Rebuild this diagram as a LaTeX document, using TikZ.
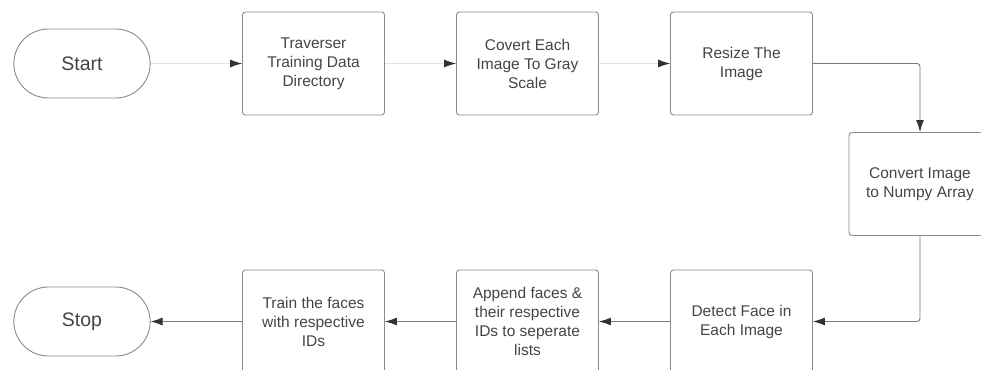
\documentclass[tikz,border=0pt]{standalone}
\usepackage{fontspec}
\setmainfont{Liberation Sans}
\usetikzlibrary{arrows.meta,shapes.misc}
\definecolor{edgegray}{HTML}{8A8A8A}
\definecolor{textgray}{HTML}{444444}
\definecolor{faintgray}{HTML}{E2E2E2}
\definecolor{linkgray}{HTML}{7A7A7A}
\definecolor{tipgray}{HTML}{333333}
\begin{document}
\begin{tikzpicture}[x=1pt, y=-1pt,
        every node/.style={draw=edgegray, line width=0.9pt, text=textgray, align=center},
        box/.style={rectangle, rounded corners=3pt, minimum width=142pt, minimum height=103pt, font=\fontsize{15.5}{19}\selectfont},
        term/.style={rounded rectangle, minimum width=143pt, minimum height=69pt, font=\fontsize{19.5}{23}\selectfont},
        faint/.style={draw=faintgray, line width=0.8pt, -{Latex[length=12pt, width=8pt, color=tipgray]}},
        link/.style={draw=linkgray, line width=0.9pt, rounded corners=3pt, -{Latex[length=12pt, width=8pt, color=tipgray]}}]
        \useasboundingbox (0, 0) rectangle (981, 369);
        \node[term] (start) at (82, 63.5) {Start};
        \node[box] (1) at (313.5, 63.5) {Traverser\\Training Data\\Directory};
        \node[box] (2) at (527.5, 63.5) {Covert Each\\Image To Gray\\Scale};
        \node[box] (3) at (741.5, 63.5) {Resize The\\Image};
        \node[box] (4) at (920, 184) {Convert Image\\to Numpy Array};
        \node[box] (5) at (741.5, 321.5) {Detect Face in\\Each Image};
        \node[box] (6) at (527.5, 321.5) {Append faces \&\\their respective\\IDs to seperate\\lists};
        \node[box] (7) at (313.5, 321.5) {Train the faces\\with respective\\IDs};
        \node[term] (stop) at (82, 321.5) {Stop};
        \draw[faint] (start) -- (1);
        \draw[faint] (1) -- (2);
        \draw[faint] (2) -- (3);
        \draw[link] (3.east) -| (4.north);
        \draw[link] (4.south) |- (5.east);
        \draw[link] (5) -- (6);
        \draw[link] (6) -- (7);
        \draw[link] (7) -- (stop);
    \end{tikzpicture}
\end{document}
